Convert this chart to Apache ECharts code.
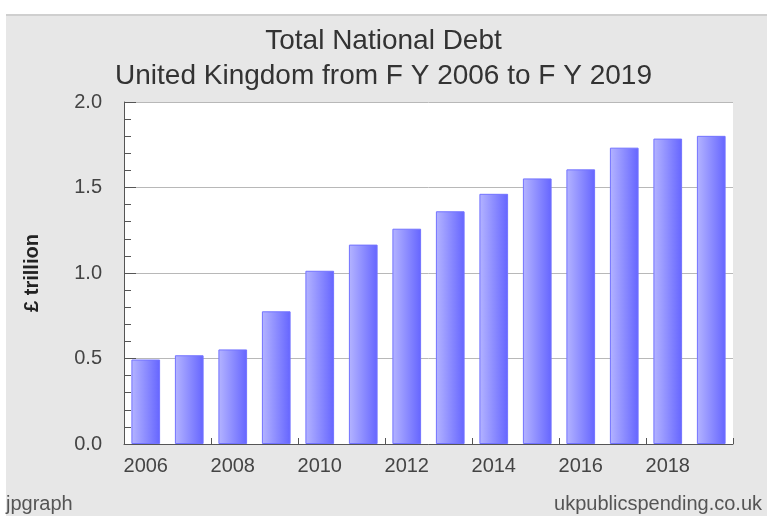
<!DOCTYPE html>
<html>
<head>
<meta charset="utf-8">
<script src="https://cdn.jsdelivr.net/npm/echarts@6/dist/echarts.min.js"></script>
<style>
html,body{margin:0;padding:0;background:#fff;}
#chart{width:767px;height:516px;}
</style>
</head>
<body>
<div id="chart"></div>
<script>
var categories = ['2006','2007','2008','2009','2010','2011','2012','2013','2014','2015','2016','2017','2018','2019'];
var debtValues = [0.494, 0.519, 0.553, 0.776, 1.013, 1.166, 1.259, 1.361, 1.463, 1.553, 1.606, 1.733, 1.786, 1.802];
var yTicks = [0, 0.5, 1.0, 1.5, 2.0];
var titleText = 'Total National Debt';
var subtitleText = 'United Kingdom from F Y 2006 to F Y 2019';
var yAxisTitle = '£ trillion';
var footLeft = 'jpgraph';
var footRight = 'ukpublicspending.co.uk';

var chart = echarts.init(document.getElementById('chart'), null, {renderer:'canvas'});
var font = 'Liberation Sans, Arial, sans-serif';
chart.setOption({
  animation: false,
  backgroundColor: '#ffffff',
  graphic: [
    {type:'rect', z:-10, silent:true, shape:{x:6,y:14,width:761,height:502}, style:{fill:'#e7e7e7'}},
    {type:'rect', z:-9, silent:true, shape:{x:6,y:14,width:761,height:2}, style:{fill:'#cfcfcf'}},
    {type:'text', left:6, top:494, style:{text:footLeft, font:'20px ' + font, fill:'#555'}},
    {type:'text', right:5, top:494, style:{text:footRight, font:'20px ' + font, fill:'#555'}}
  ],
  title: [
    {text: titleText, left:'center', top:22, textStyle:{fontFamily:font, fontSize:28, fontWeight:'normal', color:'#333'}},
    {text: subtitleText, left:'center', top:57, textStyle:{fontFamily:font, fontSize:28, fontWeight:'normal', color:'#333'}}
  ],
  grid: {left:124, right:34, top:102, bottom:72, show:true, backgroundColor:'#ffffff', borderWidth:0},
  xAxis: {
    type:'category', data: categories,
    boundaryGap:true,
    axisLine:{show:true, lineStyle:{color:'#555', width:1}},
    axisTick:{show:true, inside:true, length:6, interval:1, lineStyle:{color:'#555'}},
    axisLabel:{interval:1, margin:12, fontFamily:font, fontSize:20, color:'#444'},
    splitLine:{show:false}
  },
  yAxis: {
    type:'value', min:yTicks[0], max:yTicks[yTicks.length-1], interval:0.5,
    name: yAxisTitle, nameLocation:'middle', nameGap:82, nameRotate:90,
    nameTextStyle:{fontFamily:font, fontSize:20, fontWeight:'bold', color:'#222'},
    axisLine:{show:true, lineStyle:{color:'#555', width:1}},
    axisTick:{show:true, inside:true, length:12, lineStyle:{color:'#555'}},
    minorTick:{show:true, splitNumber:5, length:7, lineStyle:{color:'#555'}},
    axisLabel:{margin:22, fontFamily:font, fontSize:20, color:'#444', formatter:function(v){return v.toFixed(1);}},
    splitLine:{show:true, lineStyle:{color:'#b8b8b8', width:1}}
  },
  series: [{
    type:'bar', data: debtValues, barWidth:'66%',
    itemStyle:{
      color: new echarts.graphic.LinearGradient(0,0,1,0,[{offset:0,color:'#b4b4ff'},{offset:1,color:'#6565ff'}]),
      borderColor:'#7373ff', borderWidth:1
    }
  }]
});
</script>
</body>
</html>
